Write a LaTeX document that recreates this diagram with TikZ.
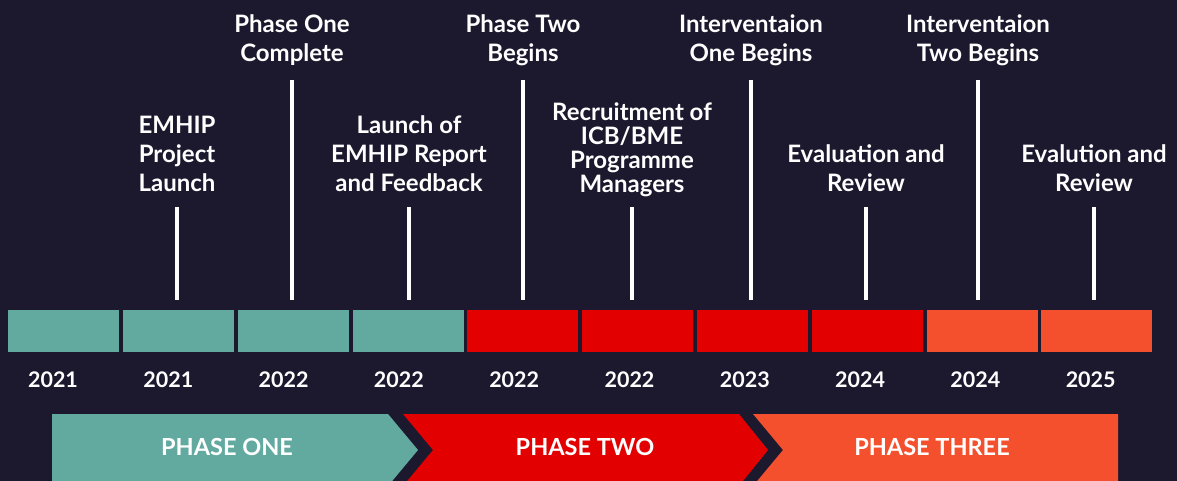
\documentclass[tikz,border=0pt]{standalone}
\usepackage{fontspec}
\setmainfont{Lato}
\usetikzlibrary{positioning}
\definecolor{navy}{RGB}{28,25,46}
\definecolor{sea}{RGB}{98,169,160}
\definecolor{scarlet}{RGB}{227,0,0}
\definecolor{ember}{RGB}{245,80,45}

\begin{document}
\begin{tikzpicture}[x=1pt, y=-1pt,
    bar/.style={fill=#1, draw=none, minimum width=111pt, minimum height=42pt, anchor=north west, inner sep=0pt},
    yr/.style={text=white, font=\fontsize{21.5}{24}\selectfont\bfseries},
    lbl/.style={text=white, align=center, font=\fontsize{24}{29}\selectfont\bfseries},
    tick/.style={white, line width=3.5pt},
    phase/.style={text=white, font=\fontsize{23.5}{26}\selectfont\bfseries}]
    \useasboundingbox (0,0) rectangle (1177,481);
    \fill[navy] (0,0) rectangle (1177,481);
    \clip (0,0) rectangle (1177,481);

    % year bars
    \foreach \i/\c/\y in {0/sea/2021, 1/sea/2021, 2/sea/2022, 3/sea/2022, 4/scarlet/2022,
                          5/scarlet/2022, 6/scarlet/2023, 7/scarlet/2024, 8/ember/2024, 9/ember/2025} {
      \node[bar=\c] (bar\i) at ({8+114.8*\i},310) {};
      \node[yr] (yr\i) at ({53+115.3*\i},380) {\y};
    }

    % milestone ticks
    \foreach \n/\x/\t in {1/177/207, 2/292/80, 3/409/207, 4/523/80, 5/632/207,
                          6/751/80, 7/866/207, 8/978/80, 9/1094/207} {
      \coordinate (top\n) at (\x,\t);
      \coordinate (foot\n) at (\x,300);
      \draw[tick] (top\n) -- (foot\n);
    }

    \node[lbl] (m1) at (177,154) {EMHIP\\Project\\Launch};
    \node[lbl] (m2) at (292,40) {Phase One\\Complete};
    \node[lbl] (m3) at (409,154) {Launch of\\EMHIP Report\\and Feedback};
    \node[lbl] (m4) at (523,40) {Phase Two\\Begins};
    \node[lbl, font=\fontsize{24}{24}\selectfont\bfseries] (m5) at (632,150) {Recruitment of\\ICB/BME\\Programme\\Managers};
    \node[lbl] (m6) at (751,40) {Interventaion\\One Begins};
    \node[lbl] (m7) at (866,168) {Evaluation and\\Review};
    \node[lbl] (m8) at (978,40) {Interventaion\\Two Begins};
    \node[lbl] (m9) at (1094,168) {Evalution and\\Review};

    % phase chevrons
    \fill[sea] (52,414) -- (388,414) -- (418,450) -- (388,486) -- (52,486) -- cycle;
    \fill[scarlet] (403,414) -- (739,414) -- (768,450) -- (739,486) -- (403,486) -- (433,450) -- cycle;
    \fill[ember] (753,414) -- (1118,414) -- (1118,486) -- (753,486) -- (783,450) -- cycle;
    \node[phase] (p1) at (227,447) {PHASE ONE};
    \node[phase] (p2) at (585,447) {PHASE TWO};
    \node[phase] (p3) at (932,447) {PHASE THREE};
  \end{tikzpicture}
\end{document}
